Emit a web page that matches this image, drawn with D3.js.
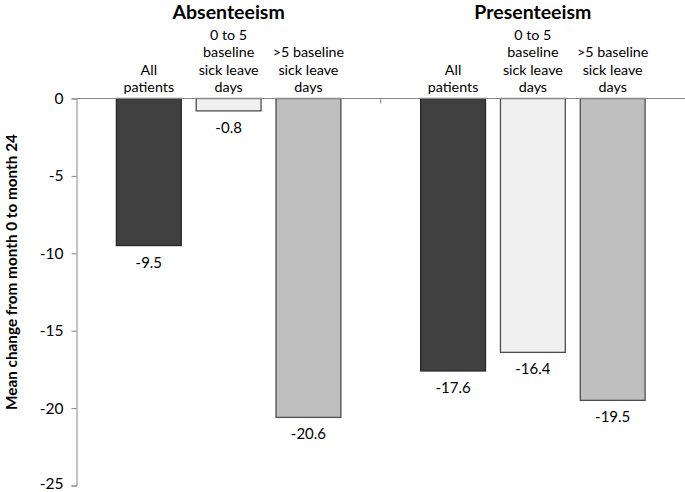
<!DOCTYPE html>
<html><head><meta charset="utf-8">
<script src="https://cdn.jsdelivr.net/npm/d3@7"></script>
<style>body{margin:0;background:#fff}svg{display:block;font-family:Lato,"Open Sans",sans-serif}</style>
</head><body><div id="chart"></div>
<script>
const groups = ["Absenteeism", "Presenteeism"];
const categories = ["All patients", "0 to 5 baseline sick leave days", ">5 baseline sick leave days"];
const categoryLines = [["All", "patients"], ["0 to 5", "baseline", "sick leave", "days"], [">5 baseline", "sick leave", "days"]];
const absenteeism = [-9.5, -0.8, -20.6];
const presenteeism = [-17.6, -16.4, -19.5];
const yTicks = [0, -5, -10, -15, -20, -25];
const colors = ["#404040", "#f0f0f0", "#bfbfbf"];

const W = 685, H = 492;
const svg = d3.select("#chart").append("svg").attr("width", W).attr("height", H);
const values = {Absenteeism: absenteeism, Presenteeism: presenteeism};

const y = d3.scaleLinear().domain([0, -25]).range([98.5, 485.5]);
const x0 = d3.scaleBand().domain(groups).range([76.5, 685]).padding(0);
const x1 = d3.scaleBand().domain(categories).range([0, x0.bandwidth()]).paddingInner(0.1875).paddingOuter(0.5);

// y axis
const yAxis = svg.append("g").attr("transform", "translate(76.5,0)")
  .call(d3.axisLeft(y).tickValues(yTicks).tickSize(5).tickPadding(8).tickFormat(d3.format("d")));
yAxis.select(".domain").attr("stroke", "#868686");
yAxis.selectAll(".tick line").attr("stroke", "#868686");
yAxis.selectAll(".tick text").attr("font-size", 15.5).attr("fill", "#000").attr("font-family", "Lato, sans-serif")
  .attr("dy", d => d === -25 ? "0.2em" : "0.32em")
  .text(d => d === 0 ? "0" : "-" + Math.abs(d));

// bars
groups.forEach(g => {
  const gg = svg.append("g").attr("transform", `translate(${x0(g)},0)`);
  categories.forEach((c, i) => {
    const v = values[g][i];
    gg.append("rect")
      .attr("x", x1(c)).attr("y", y(0))
      .attr("width", x1.bandwidth()).attr("height", y(v) - y(0))
      .attr("fill", colors[i]).attr("stroke", i === 0 ? "#262626" : "#4d4d4d").attr("stroke-width", 1.3);
    gg.append("text").attr("x", x1(c) + x1.bandwidth() / 2).attr("y", y(v) + 22)
      .attr("text-anchor", "middle").attr("font-size", 15).text(v.toFixed(1));
    const lines = categoryLines[i];
    lines.forEach((l, k) => {
      gg.append("text").attr("x", x1(c) + x1.bandwidth() / 2)
        .attr("y", 92 - (lines.length - 1 - k) * 17.5)
        .attr("text-anchor", "middle").attr("font-size", 14.3).text(l);
    });
  });
  gg.append("text").attr("x", x0.bandwidth() / 2).attr("y", 19)
    .attr("text-anchor", "middle").attr("font-size", 19.5).attr("font-weight", "bold").text(g);
});

// x axis baseline with group separators
const xAxis = svg.append("g").attr("transform", `translate(0,${y(0)})`)
  .call(d3.axisBottom(x0).tickSize(0).tickFormat(""));
xAxis.select(".domain").attr("stroke", "#868686").attr("d", `M${x0.range()[0]},0H${x0.range()[1]}`);
xAxis.selectAll(".tick").remove();
svg.append("g").selectAll("line").data(groups.slice(1)).join("line")
  .attr("x1", d => x0(d)).attr("x2", d => x0(d)).attr("y1", y(0)).attr("y2", y(0) + 5).attr("stroke", "#868686");

// y label
svg.append("text").attr("transform", `translate(17,272) rotate(-90)`)
  .attr("text-anchor", "middle").attr("font-size", 15.3).attr("font-weight", "bold").text("Mean change from month 0 to month 24");
</script></body></html>
